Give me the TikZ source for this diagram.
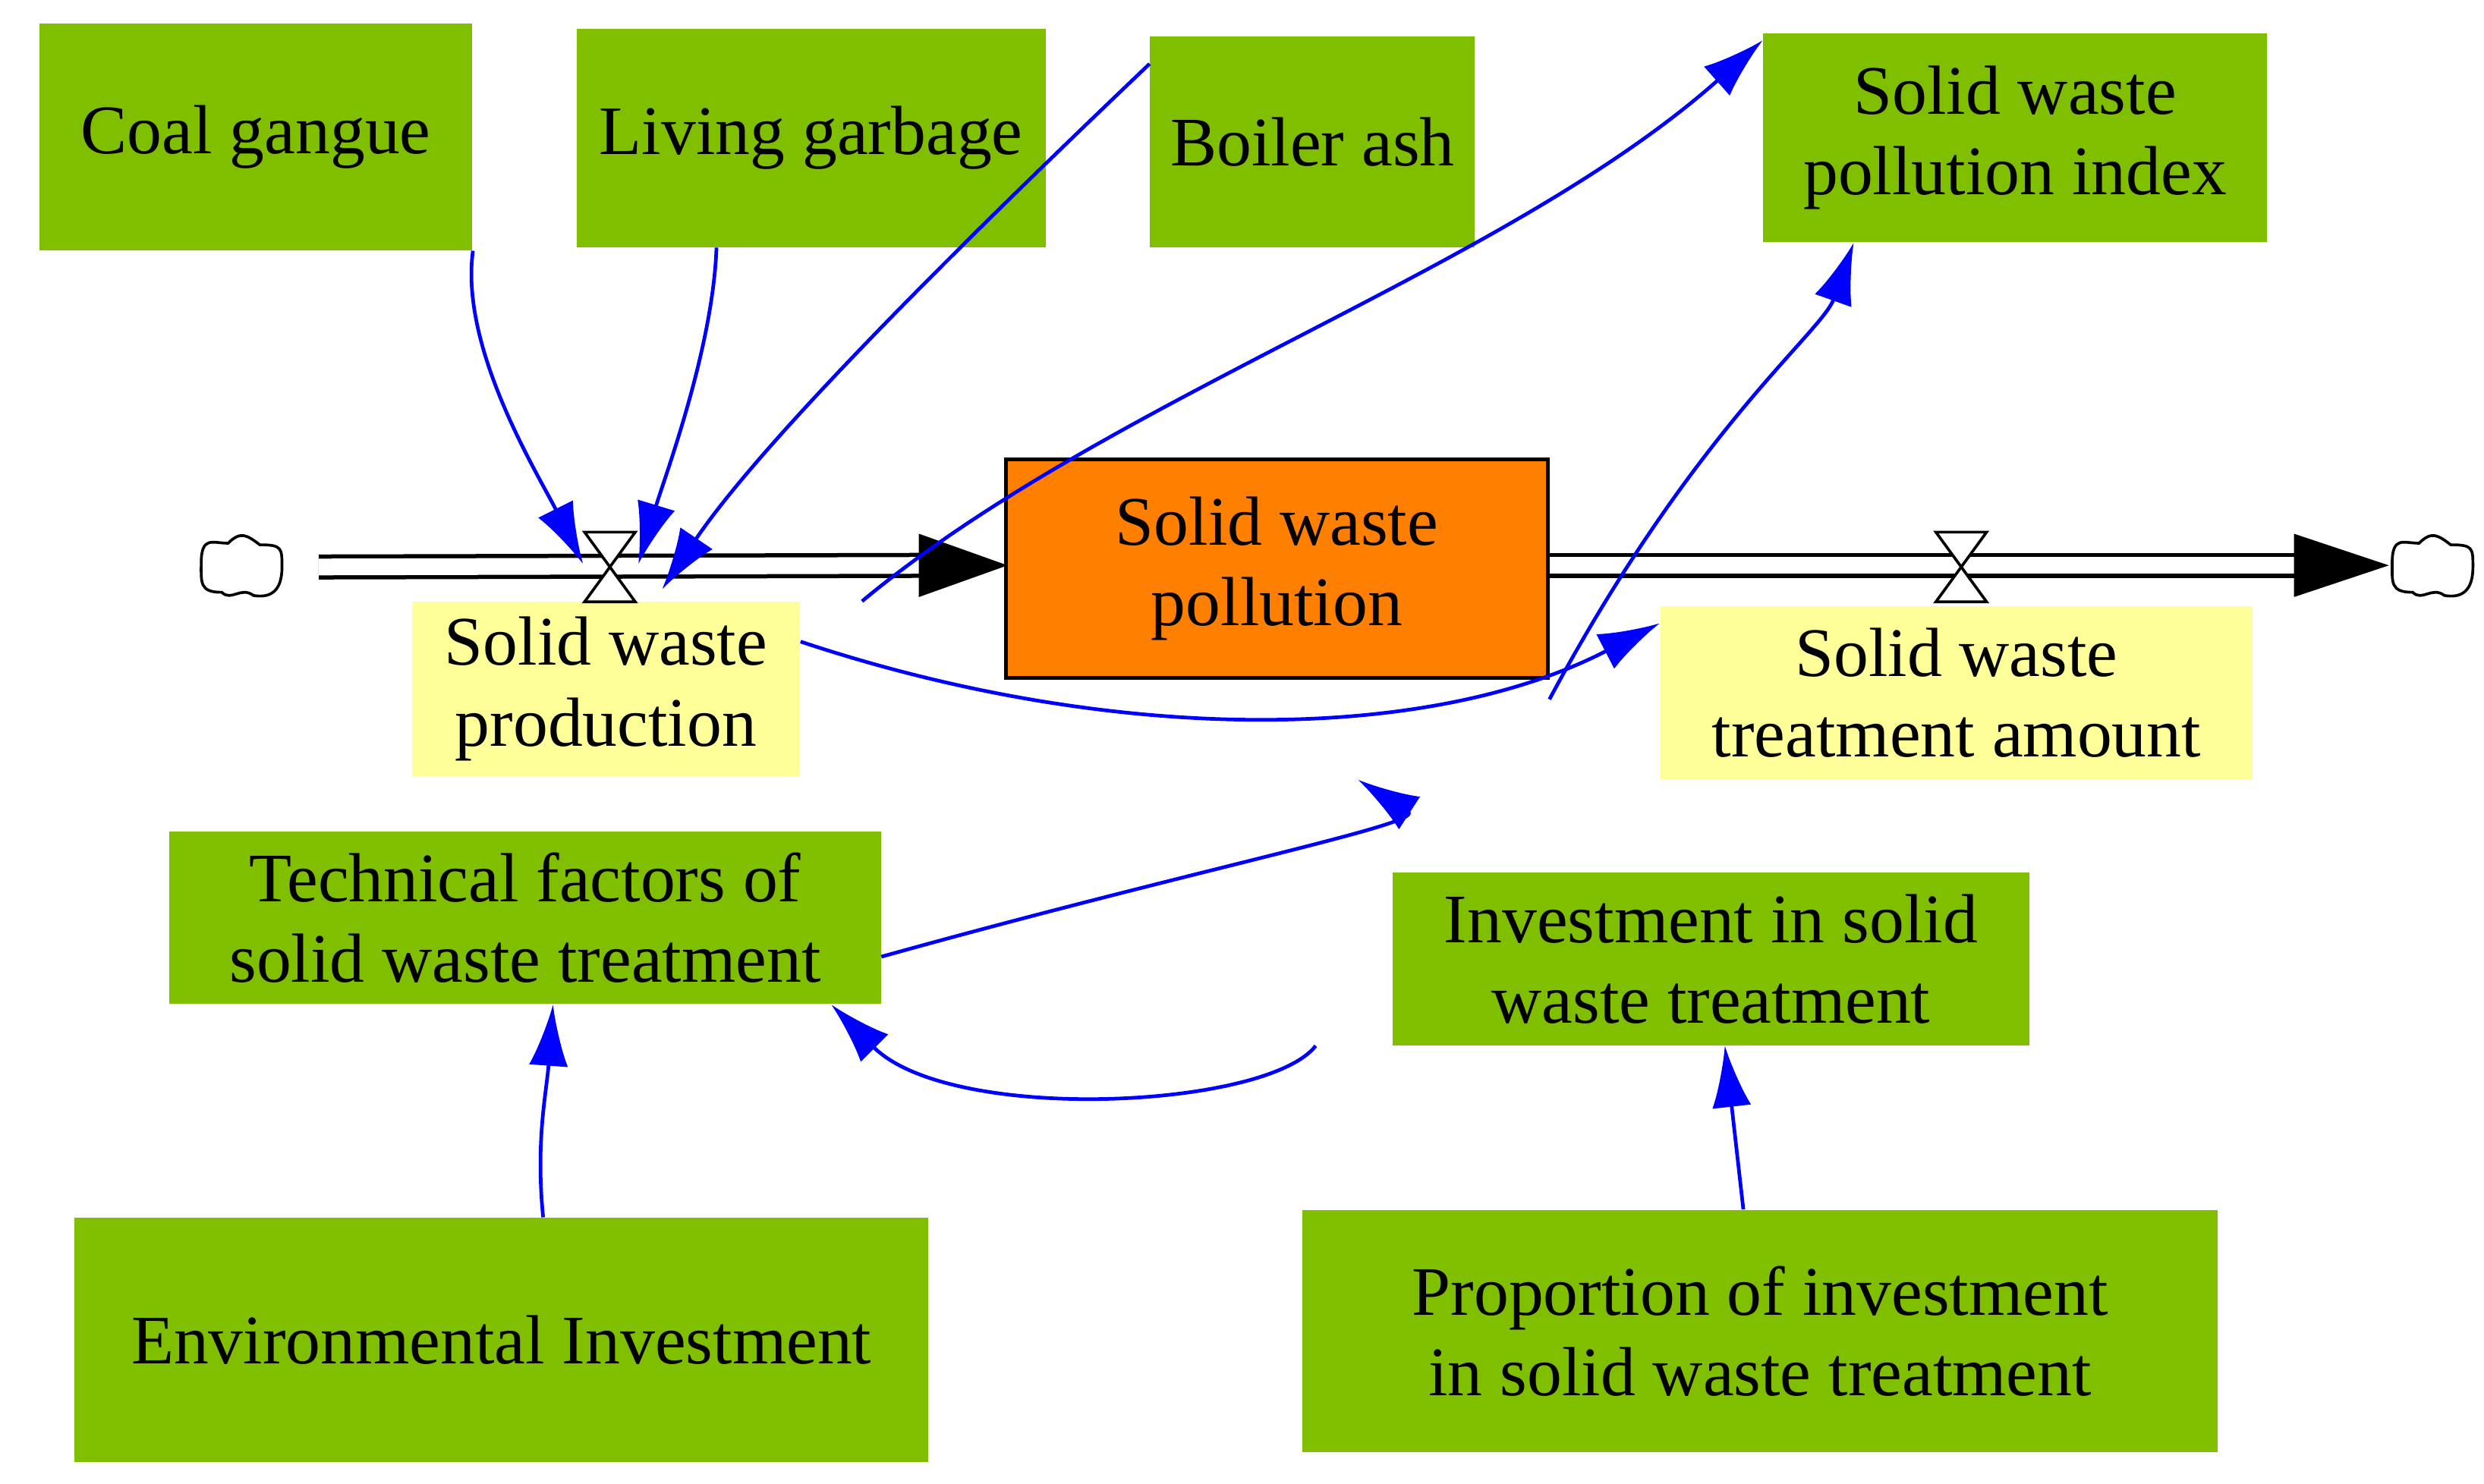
\documentclass[tikz,border=0pt]{standalone}
\usepackage{fontspec}
\setmainfont{Liberation Serif}
\usetikzlibrary{arrows.meta,positioning}
\definecolor{gr}{HTML}{80BF00}
\definecolor{yl}{HTML}{FFFF99}
\definecolor{og}{HTML}{FF8000}
\begin{document}
\begin{tikzpicture}[x=0.02cm,y=-0.02cm,
  box/.style={fill=gr,draw=none,inner sep=0pt,align=center,font=\fontsize{25}{29}\selectfont},
  aux/.style={fill=yl,draw=none,inner sep=0pt,align=center,font=\fontsize{25}{29}\selectfont},
  lk/.style={draw=blue,line width=1.3pt,-{Latex[length=22pt,width=14pt]}},
  pipe/.style={double=white,double distance=6pt,line width=1.5pt,draw=black},
  cloud/.style={draw=black,line width=1pt,fill=white}]
\useasboundingbox (0,0) rectangle (1568,937);
\node[box,minimum width=273*0.02cm,minimum height=143*0.02cm] (cg) at (161.5,86.5) {Coal gangue};
\node[box,minimum width=296*0.02cm,minimum height=138*0.02cm] (lg) at (512,87) {Living garbage};
\node[box,minimum width=205*0.02cm,minimum height=133*0.02cm] (ba) at (828.5,89.5) {Boiler ash};
\node[box,minimum width=318*0.02cm,minimum height=132*0.02cm] (pi) at (1272,87) {Solid waste\\pollution index};
\node[fill=og,draw=black,line width=1.2pt,inner sep=0pt,align=center,font=\fontsize{25}{29}\selectfont,minimum width=342*0.02cm,minimum height=138*0.02cm] (st) at (806,359) {Solid waste\\pollution};
\node[aux,minimum width=245*0.02cm,minimum height=110*0.02cm] (sp) at (382.5,435) {Solid waste\\production};
\node[aux,minimum width=374*0.02cm,minimum height=109*0.02cm] (ta) at (1235,437.5) {Solid waste\\treatment amount};
\node[box,minimum width=449*0.02cm,minimum height=109*0.02cm] (tf) at (331.5,579.5) {Technical factors of\\solid waste treatment};
\node[box,minimum width=402*0.02cm,minimum height=109*0.02cm] (iv) at (1080,605.5) {Investment in solid\\waste treatment};
\node[box,minimum width=539*0.02cm,minimum height=154*0.02cm] (ei) at (316.5,846) {Environmental Investment};
\node[box,minimum width=578*0.02cm,minimum height=153*0.02cm] (pr) at (1111,840.5) {Proportion of investment\\in solid waste treatment};
% clouds
\coordinate (c1) at (152,358);
\coordinate (c2) at (1535,358);
\foreach \c in {c1,c2}{
\draw[cloud] ([shift={(-25,-2)}]\c) .. controls +(0,-18) and +(-10,0) .. ([shift={(-8,-15)}]\c)
 .. controls +(8,-8) and +(-8,-6) .. ([shift={(12,-14)}]\c)
 .. controls +(14,0) and +(0,-12) .. ([shift={(26,0)}]\c)
 .. controls +(0,14) and +(12,2) .. ([shift={(8,18)}]\c)
 .. controls +(-8,-6) and +(6,6) .. ([shift={(-12,16)}]\c)
 .. controls +(-14,0) and +(0,12) .. cycle;}
% pipes
\draw[pipe] ([xshift=28]c1) -- (582,357);
\fill (580,337) -- (636,357) -- (580,377) -- cycle;
\draw[pipe] (st.east|-0,357) -- (1450,357);
\fill (1448,337) -- (1508,357) -- (1448,377) -- cycle;
% valves
\foreach \vx in {385,1238}{
\draw[fill=white,line width=1pt] (\vx-16,336) -- (\vx+16,336) -- (\vx-16,380) -- (\vx+16,380) -- cycle;}
% links
\draw[lk] ([xshift=78]cg.south) .. controls (290,220) and (340,300) .. (368,356);
\draw[lk] ([xshift=-34]lg.south) .. controls (450,220) and (420,300) .. (403,356);
\draw[lk] ([yshift=28]ba.west) .. controls (600,160) and (480,280) .. (418,372);
\draw[lk] ([xshift=92]sp.north) .. controls (700,250) and (950,170) .. ([yshift=35]pi.west);
\draw[lk] ([yshift=-47]st.east) .. controls (1070,270) and (1150,210) .. ([xshift=-58]pi.south);
\draw[lk] ([yshift=17]sp.east) .. controls (700,470) and (900,470) .. ([yshift=25]ta.west);
\draw[lk] ([yshift=-14]tf.east) .. controls (750,550) and (900,520) .. ([xshift=-215]ta.south);
\draw[lk] ([xshift=-142]iv.south) .. controls (800,700) and (600,710) .. ([xshift=110]tf.south);
\draw[lk] ([xshift=15]ei.north) .. controls (338,720) and (345,690) .. ([xshift=10]tf.south);
\draw[lk] ([xshift=-6]pr.north) -- ([xshift=5]iv.south);
\end{tikzpicture}
\end{document}
